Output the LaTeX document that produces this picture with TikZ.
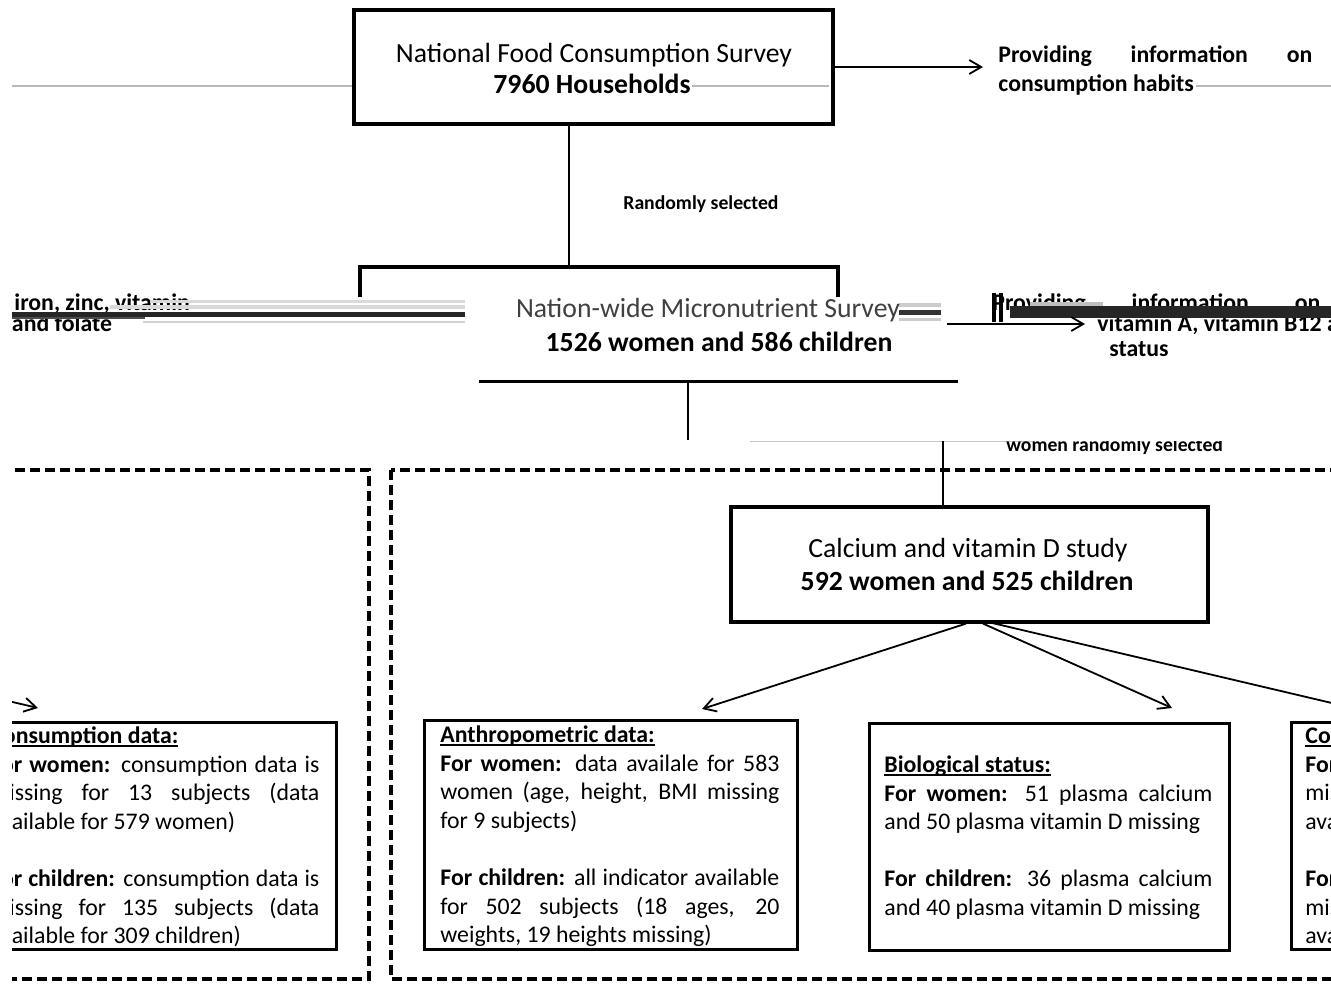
\documentclass[tikz,border=0pt]{standalone}
\usepackage{fontspec}
\setmainfont{Carlito}
\usetikzlibrary{arrows.meta,calc}
\newcommand\myul[1]{\setbox0=\hbox{#1}\rlap{\rule[-1.6pt]{\wd0}{0.7pt}}\box0}
\newcommand\jl[1]{\hbox to\hsize{#1}}
\newcommand\lineblock[2]{\vtop{\hsize=#1\relax #2}}
\tikzset{
  bigbox/.style={draw, line width=1.6pt, minimum width=239.5pt, minimum height=57pt, inner sep=0pt},
  databox/.style={draw, line width=1.7pt, inner sep=0pt, anchor=north west},
  bigtxt/.style={font=\fontsize{13.85}{16.5}\selectfont, inner sep=0pt, anchor=base},
  bigbold/.style={font=\fontsize{13.85}{16.5}\selectfont\bfseries, inner sep=0pt, anchor=base},
  datatxt/.style={font=\fontsize{11.9}{14.3}\selectfont, inner sep=0pt, anchor=north west},
  infotxt/.style={font=\fontsize{11.9}{14.3}\selectfont\bfseries, inner sep=0pt},
  smalltxt/.style={font=\fontsize{9.85}{12}\selectfont\bfseries, inner sep=0pt, anchor=base west},
  conn/.style={line width=0.75pt},
  arr/.style={line width=0.9pt, -{Straight Barb[length=6pt,width=7pt]}},
  dashbox/.style={line width=2pt, dash pattern=on 5pt off 2.5pt},
}
\newcommand\wrapped[1]{%
  \draw[dashbox] (391,470) rectangle (1684,979);
  \node[databox, minimum width=180pt, minimum height=113.5pt] (cons#1) at (1290,721) {};
  \node[datatxt] (consT#1) at (1305,723) {\lineblock{164.5pt}{%
    \hbox{\strut\myul{\textbf{Consumption data:}}}
    \jl{\textbf{For women:} consumption data is}
    \jl{missing for 13 subjects (data}
    \hbox{available for 579 women)}
    \hbox{\strut}
    \jl{\textbf{For children:} consumption data is}
    \jl{missing for 135 subjects (data}
    \hbox{available for 309 children)}}};
  \coordinate (cs#1) at (988,622);
  \coordinate (ct#1) at (1353,708);
  \draw[arr] (cs#1) -- (ct#1);
  \node[infotxt, anchor=base west] (info2b#1) at (1097,331) {vitamin A, vitamin B12 and folate};
}
\begin{document}
\begin{tikzpicture}[x=0.5pt,y=-0.5pt]
\useasboundingbox (0,0) rectangle (1331,984);
\fill[white] (0,0) rectangle (1331,984);

% faint scan lines (top row)
\draw[gray!55, line width=0.6pt] (12,86) -- (355,86) (692,86) -- (829,86) (1196,86) -- (1331,86);

% top box
\node[bigbox] (nfcs) at (593.5,67) {};
\node[bigtxt] (nfcs1) at (594,63) {National Food Consumption Survey};
\node[bigbold] (nfcs2) at (592,94) {7960 Households};
\coordinate (info1in) at (983,67);
\draw[arr] (nfcs.east) -- (info1in);
\node[infotxt, anchor=north west] (info1) at (998,42)
  {\lineblock{157pt}{\jl{\strut Providing information on}\hbox{consumption habits}}};

\coordinate (mtop) at (569,267);
\draw[conn] (nfcs.south -| mtop) -- (mtop);
\node[smalltxt] (rand1) at (623,210) {Randomly selected};

% middle box (shifted edges)
\node[minimum width=239.5pt, minimum height=57pt, inner sep=0pt] (nmns) at (718.5,324) {};
\draw[line width=1.6pt] (360,297) -- (360,267) -- (838,267) -- (838,297);
\draw[line width=1.6pt] (nmns.south west) -- (nmns.south east);

% left text fragment
\node[infotxt, anchor=base west] (frag1) at (14,310) {iron, zinc, vitamin};

% wrapped parts (right side and its copy at the left)
\begin{scope}
  \clip (0,0) rectangle (1331,984);
  \wrapped{R}
\end{scope}
\begin{scope}
  \clip (12,0) rectangle (1331,984);
  \begin{scope}[xshift=-657.5pt]
    \wrapped{L}
  \end{scope}
\end{scope}

\node[infotxt, anchor=base west] (info2a) at (992,310) {\hbox to 164pt{Providing information on}};

% glitch bars
\fill[gray!30] (150,300) rectangle (465,303);
\fill[gray!30] (110,305) rectangle (465,309);
\fill[black!85] (12,311.5) rectangle (465,317);
\fill[black!70] (12,317) rectangle (145,318.5);
\fill[gray!35] (143,320.5) rectangle (465,323);
\fill[gray!40] (899,303) rectangle (941,307);
\fill[black!80] (899,310) rectangle (941,315);
\fill[gray!40] (899,318) rectangle (941,321);
\fill[gray!50] (1030,302) rectangle (1103,306);
\fill[black!85] (1010,306) rectangle (1331,318);
\fill[black] (992,293) rectangle (996,322);
\fill[black] (999,293) rectangle (1003,322);

\node[bigtxt, text=black!75] (nmns1) at (708,317) {Nation-wide Micronutrient Survey};
\node[bigbold] (nmns2) at (719,351) {1526 women and 586 children};

\node[infotxt, anchor=base] (info2c) at (1139,356) {status};
\coordinate (info2in) at (1085,324);
\draw[arr] ($(nmns.east)+(-11,0)$) -- (info2in);

% split below middle box
\coordinate (split1) at (688,440);
\draw[conn] (nmns.south -| split1) -- (split1);
\draw[gray!45, line width=0.5pt] (750,441) -- (1035,441);
\begin{scope}
  \clip (990,441) rectangle (1240,470);
  \node[smalltxt] (rand2) at (1006,451) {women randomly selected};
\end{scope}
\coordinate (split2) at (943,441);

% calcium box
\node[bigbox, minimum width=238.5pt, minimum height=57.5pt] (calc) at (969.5,564.5) {};
\draw[conn] (split2) -- (split2 |- calc.north);
\node[bigtxt] (calc1) at (968,557) {Calcium and vitamin D study};
\node[bigbold] (calc2) at (967,590) {592 women and 525 children};

% bottom boxes
\node[databox, minimum width=186.5pt, minimum height=114.5pt] (anthro) at (423,719) {};
\node[datatxt] (anthroT) at (440,722) {\lineblock{169.5pt}{%
  \hbox{\strut\myul{\textbf{Anthropometric data:}}}
  \jl{\textbf{For women:} data availale for 583}
  \jl{women (age, height, BMI missing}
  \hbox{for 9 subjects)}
  \hbox{\strut}
  \jl{\textbf{For children:} all indicator available}
  \jl{for 502 subjects (18 ages, 20}
  \hbox{weights, 19 heights missing)}}};

\node[databox, minimum width=180pt, minimum height=113.5pt] (bio) at (868,722) {};
\node[datatxt] (bioT) at (884,752) {\lineblock{164pt}{%
  \hbox{\strut\myul{\textbf{Biological status:}}}
  \jl{\textbf{For women:} 51 plasma calcium}
  \hbox{and 50 plasma vitamin D missing}
  \hbox{\strut}
  \jl{\textbf{For children:} 36 plasma calcium}
  \hbox{and 40 plasma vitamin D missing}}};

\coordinate (anthroIn) at (702,709);
\coordinate (bioIn) at (1172,708);
\draw[arr] ($(calc.south)+(-3.5,0)$) -- (anthroIn);
\draw[arr] ($(calc.south)+(13.5,0)$) -- (bioIn);
\end{tikzpicture}
\end{document}
